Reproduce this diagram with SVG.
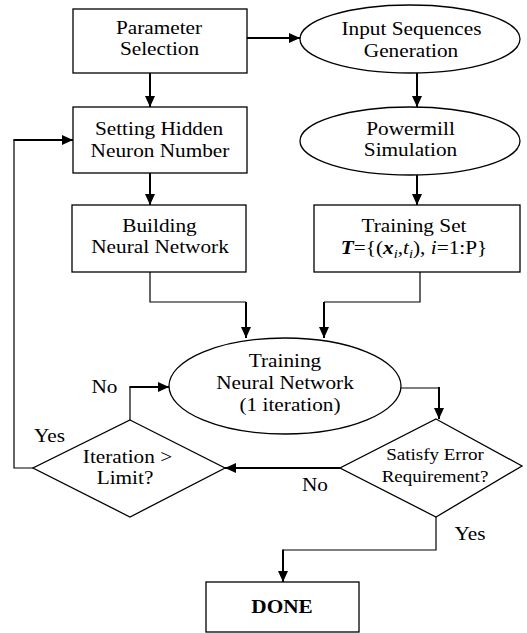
<svg xmlns="http://www.w3.org/2000/svg" width="527" height="633" viewBox="0 0 527 633">
<style>
.shape{fill:#fff;stroke:#000;stroke-width:1.3}
.t{font-family:"Liberation Serif","Times New Roman",serif;font-size:19px;fill:#000;text-anchor:middle}
.s{font-size:17px}
.b{font-weight:bold}
.c{fill:none;stroke:#000;stroke-width:1.2}
.a{fill:none;stroke:#000;stroke-width:2;marker-end:url(#arr)}
</style>
<defs>
<marker id="arr" markerUnits="userSpaceOnUse" markerWidth="11" markerHeight="10" refX="11" refY="5" orient="auto">
<path d="M0,0 L11,5 L0,10 z" fill="#000"/>
</marker>
</defs>
<rect width="527" height="633" fill="#fff"/>
<g id="connectors">
<line class="a" x1="247" y1="38" x2="300" y2="38"/>
<line class="a" x1="150" y1="73" x2="150" y2="107"/>
<line class="a" x1="150" y1="173" x2="150" y2="205"/>
<line class="a" x1="417" y1="73" x2="417" y2="107"/>
<line class="a" x1="417" y1="175" x2="417" y2="205"/>
<polyline class="c" points="150,272 150,302 246,302"/>
<line class="a" x1="246" y1="302" x2="246" y2="338"/>
<polyline class="c" points="420,272 420,302 324,302"/>
<line class="a" x1="324" y1="302" x2="324" y2="338"/>
<polyline class="c" points="401,388 439,388"/>
<line class="a" x1="439" y1="387" x2="439" y2="419"/>
<line class="a" x1="340" y1="468" x2="225" y2="468"/>
<polyline class="c" points="130,420 130,387"/>
<line class="a" x1="129.4" y1="387" x2="169" y2="387"/>
<polyline class="c" points="33,468 14,468 14,140"/>
<line class="a" x1="13.4" y1="140" x2="73" y2="140"/>
<polyline class="c" points="436,517 436,550 283,550"/>
<line class="a" x1="283" y1="549.4" x2="283" y2="582"/>
<text class="t" transform="translate(104.5,393) scale(1.12,1)">No</text>
<text class="t" transform="translate(49.5,442) scale(1.12,1)">Yes</text>
<text class="t" transform="translate(315,491) scale(1.12,1)">No</text>
<text class="t" transform="translate(470,540) scale(1.12,1)">Yes</text>
</g>
<g id="param">
<rect class="shape" x="73" y="9" width="174" height="64"/>
<text class="t" transform="translate(159,34) scale(1.12,1)">Parameter</text>
<text class="t" transform="translate(159.5,55) scale(1.12,1)">Selection</text>
</g>
<g id="setting">
<rect class="shape" x="73" y="107" width="174" height="66"/>
<text class="t" transform="translate(159,135) scale(1.12,1)">Setting Hidden</text>
<text class="t" transform="translate(160,157) scale(1.12,1)">Neuron Number</text>
</g>
<g id="building">
<rect class="shape" x="72" y="205" width="174" height="67"/>
<text class="t" transform="translate(159.5,232) scale(1.12,1)">Building</text>
<text class="t" transform="translate(160,253) scale(1.12,1)">Neural Network</text>
</g>
<g id="input">
<ellipse class="shape" cx="410" cy="39" rx="110" ry="34"/>
<text class="t" transform="translate(411.5,35) scale(1.12,1)">Input Sequences</text>
<text class="t" transform="translate(411,57) scale(1.12,1)">Generation</text>
</g>
<g id="powermill">
<ellipse class="shape" cx="410" cy="141" rx="110" ry="34"/>
<text class="t" transform="translate(410.5,135) scale(1.12,1)">Powermill</text>
<text class="t" transform="translate(410.5,156) scale(1.12,1)">Simulation</text>
</g>
<g id="trainingset">
<rect class="shape" x="314" y="205" width="206" height="67"/>
<text class="t" transform="translate(414,232) scale(1.12,1)">Training Set</text>
<text class="t" transform="translate(414,254) scale(1.12,1)"><tspan font-weight="bold" font-style="italic">T</tspan>={(<tspan font-weight="bold" font-style="italic">x</tspan><tspan font-style="italic" font-size="13" dy="4">i</tspan><tspan dy="-4">,</tspan><tspan font-style="italic">t</tspan><tspan font-style="italic" font-size="13" dy="4">i</tspan><tspan dy="-4">), </tspan><tspan font-style="italic">i</tspan>=1:P}</text>
</g>
<g id="training">
<ellipse class="shape" cx="285" cy="386" rx="116" ry="48"/>
<text class="t" transform="translate(285,367) scale(1.12,1)">Training</text>
<text class="t" transform="translate(285,389) scale(1.12,1)">Neural Network</text>
<text class="t" transform="translate(290,411) scale(1.12,1)">(1 iteration)</text>
</g>
<g id="satisfy">
<polygon class="shape" points="436,419 522,466 436,517 340,468"/>
<text class="t s" transform="translate(435,460) scale(1.12,1)">Satisfy Error</text>
<text class="t s" transform="translate(435,482) scale(1.12,1)">Requirement?</text>
</g>
<g id="iteration">
<polygon class="shape" points="130,420 225,468 130,517 33,468"/>
<text class="t" transform="translate(127.5,463) scale(1.12,1)">Iteration &gt;</text>
<text class="t" transform="translate(125,484) scale(1.12,1)">Limit?</text>
</g>
<g id="done">
<rect class="shape" x="206" y="582" width="153" height="50"/>
<text class="t b" transform="translate(282,613) scale(1.12,1)">DONE</text>
</g>
</svg>
